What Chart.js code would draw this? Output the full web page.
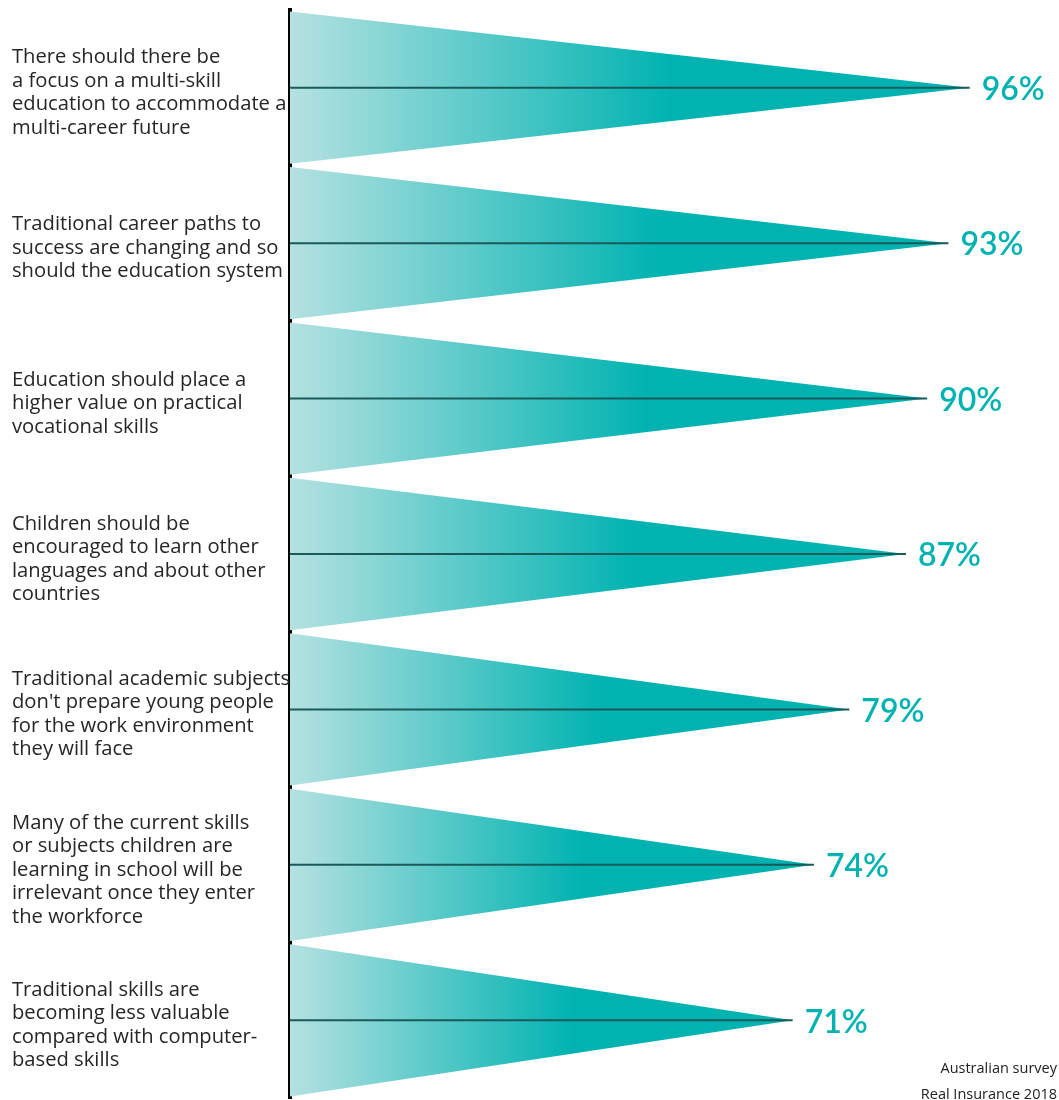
<!DOCTYPE html>
<html>
<head>
<meta charset="utf-8">
<script src="https://cdn.jsdelivr.net/npm/chart.js@4.4.1/dist/chart.umd.min.js"></script>
<style>
  html, body { margin: 0; padding: 0; background: #fff; }
  #wrap { width: 1059px; height: 1100px; }
</style>
</head>
<body>
<div id="wrap"><canvas id="chart"></canvas></div>
<script>
'use strict';

// statements, top to bottom
const statements = [
    ['There should there be', 'a focus on a multi-skill', 'education to accommodate a', 'multi-career future'],
    ['Traditional career paths to', 'success are changing and so', 'should the education system'],
    ['Education should place a', 'higher value on practical', 'vocational skills'],
    ['Children should be', 'encouraged to learn other', 'languages and about other', 'countries'],
    ['Traditional academic subjects', "don't prepare young people", 'for the work environment', 'they will face'],
    ['Many of the current skills', 'or subjects children are', 'learning in school will be', 'irrelevant once they enter', 'the workforce'],
    ['Traditional skills are', 'becoming less valuable', 'compared with computer-', 'based skills']
];
// percent agreeing
const agree = [96, 93, 90, 87, 79, 74, 71];
const sourceLines = ['Australian survey', 'Real Insurance 2018'];

const TEAL = '#00b3b1';
const LIGHT = '#b5e1e1';
const HALF = 0.49;

let datasets = [];
for (let i = 0; i < agree.length; i++) {
    // centre line (drawn on top)
    datasets.push({
        data: [{x: 0, y: i}, {x: agree[i], y: i}],
        showLine: true,
        borderColor: '#1b5a5a',
        borderWidth: 2,
        pointRadius: 0,
        fill: false,
        order: 0
    });
    // triangle
    datasets.push({
        data: [{x: 0, y: i - HALF}, {x: agree[i], y: i}, {x: 0, y: i + HALF}],
        showLine: true,
        borderWidth: 0,
        borderColor: 'rgba(0,0,0,0)',
        pointRadius: 0,
        fill: 'shape',
        order: 1,
        backgroundColor: function(ctx) {
            const chart = ctx.chart;
            if (!chart.chartArea) return TEAL;
            const xs = chart.scales.x;
            const x0 = xs.getPixelForValue(0);
            const x1 = xs.getPixelForValue(agree[i] * 0.56);
            const g = chart.ctx.createLinearGradient(x0, 0, x1, 0);
            g.addColorStop(0, LIGHT);
            g.addColorStop(1, TEAL);
            return g;
        }
    });
}

const extras = {
    id: 'extras',
    afterDatasetsDraw(chart) {
        const c = chart.ctx;
        const xs = chart.scales.x, ys = chart.scales.y;
        c.save();
        c.fillStyle = TEAL;
        c.font = '600 32px Lato';
        c.textAlign = 'left';
        c.textBaseline = 'middle';
        for (let i = 0; i < agree.length; i++) {
            c.fillText(agree[i] + '%', xs.getPixelForValue(agree[i]) + 12, ys.getPixelForValue(i) + 2);
        }
        c.fillStyle = '#222';
        c.font = '14.5px "Open Sans"';
        c.textAlign = 'right';
        c.textBaseline = 'alphabetic';
        c.fillText(sourceLines[0], 1057, 1073);
        c.fillText(sourceLines[1], 1057, 1099);
        c.restore();
    }
};

new Chart(document.getElementById('chart').getContext('2d'), {
    type: 'scatter',
    data: {datasets: datasets},
    options: {
        responsive: true,
        maintainAspectRatio: false,
        animation: false,
        layout: {padding: {left: 12, right: 61, top: 10, bottom: 2}},
        plugins: {legend: {display: false}, tooltip: {enabled: false}},
        scales: {
            x: {
                type: 'linear',
                min: 0,
                max: 100,
                display: false
            },
            y: {
                type: 'linear',
                reverse: true,
                min: -0.5,
                max: statements.length - 0.5,
                grid: {display: false, drawTicks: false},
                border: {display: true, color: '#000', width: 4},
                afterBuildTicks(scale) {
                    scale.ticks = statements.map((_, i) => ({value: i}));
                },
                afterFit(scale) {
                    scale.width = 278;
                    scale.paddingTop = 0;
                    scale.paddingBottom = 0;
                },
                ticks: {
                    crossAlign: 'far',
                    labelOffset: 5,
                    color: '#262626',
                    font: {family: 'Open Sans', size: 20.2, lineHeight: '23.5px'},
                    callback: (v) => statements[v] || ''
                }
            }
        }
    },
    plugins: [extras]
});
</script>
</body>
</html>
